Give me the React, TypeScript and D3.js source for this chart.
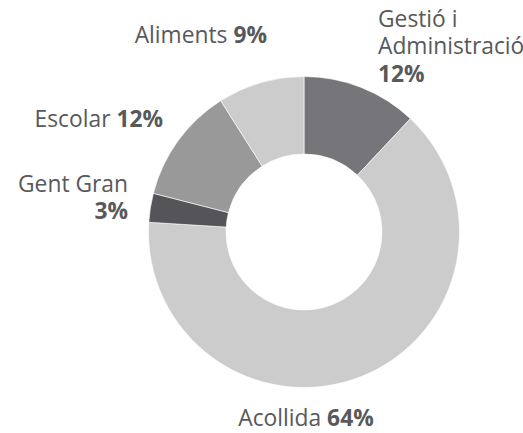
import React from "react";
import * as d3 from "d3";

const categories = ["Gestió i Administració", "Acollida", "Gent Gran", "Escolar", "Aliments"];
const values = [12, 64, 3, 12, 9];
const colors = ["#767579", "#cccccc", "#555559", "#999999", "#cccccc"];

const W = 523;
const H = 433;
const cx = 304;
const cy = 232;
const R = 155.5;
const r = 78;
const FONT = "'Open Sans', sans-serif";
const FS = 22.8;
const TXT = "#58595b";

export default function App() {
  const pie = d3.pie<number>().sort(null).value((d) => d);
  const arcs = pie(values);
  const arc = d3.arc<d3.PieArcDatum<number>>().innerRadius(r).outerRadius(R);

  return (
    <svg
      width={W}
      height={H}
      style={{ position: "absolute", left: 0, top: 0, background: "#fff" }}
      fontFamily={FONT}
      fontSize={FS}
    >
      <g transform={`translate(${cx},${cy})`}>
        {arcs.map((a, i) => (
          <path key={categories[i]} d={arc(a) || ""} fill={colors[i]} stroke="#fff" strokeWidth={0.6} />
        ))}
      </g>
      <g fill={TXT}>
        <text x={378} y={27}>Gestió i</text>
        <text x={378} y={54}>Administració</text>
        <text x={378} y={82} fontWeight="bold">{values[0]}%</text>

        <text x={306} y={426} textAnchor="middle">
          {"Acollida "}
          <tspan fontWeight="bold">{values[1]}%</tspan>
        </text>

        <text x={128} y={192} textAnchor="end">Gent Gran</text>
        <text x={128} y={219} textAnchor="end" fontWeight="bold">{values[2]}%</text>

        <text x={163} y={127} textAnchor="end">
          {"Escolar "}
          <tspan fontWeight="bold">{values[3]}%</tspan>
        </text>

        <text x={267} y={43} textAnchor="end">
          {"Aliments "}
          <tspan fontWeight="bold">{values[4]}%</tspan>
        </text>
      </g>
    </svg>
  );
}
